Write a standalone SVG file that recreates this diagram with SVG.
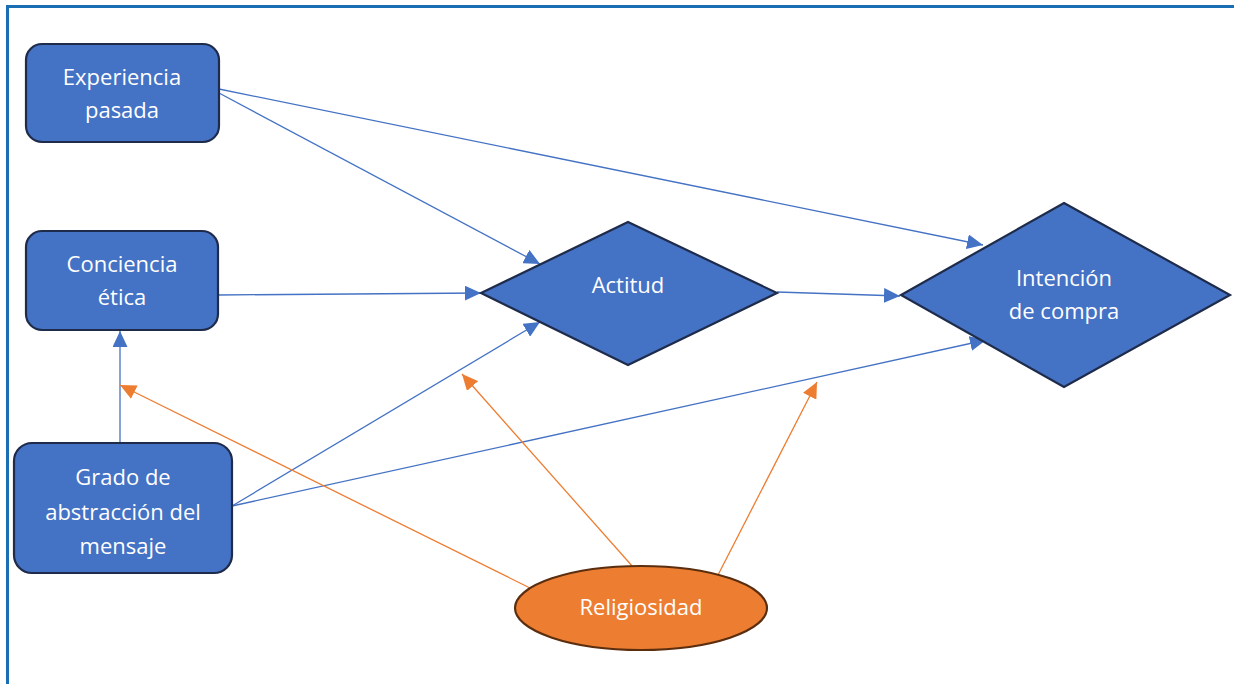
<svg xmlns="http://www.w3.org/2000/svg" width="1234" height="684" viewBox="0 0 1234 684">
<style>
.box{fill:#4472C4;stroke:#1F2B4A;stroke-width:2.2}
.ell{fill:#ED7D31;stroke:#5A2E0E;stroke-width:2.2}
.t{font-family:"Open Sans","Liberation Sans",sans-serif;font-size:22px;fill:#FFFFFF;text-anchor:middle}
.b{stroke:#4472C4;stroke-width:1.3;fill:none}
.o{stroke:#ED7D31;stroke-width:1.3;fill:none}
</style>
<defs>
<marker id="ab" markerUnits="userSpaceOnUse" markerWidth="17" markerHeight="15" refX="16" refY="7.5" orient="auto">
<path d="M0,0 L16,7.5 L0,15 Z" fill="#4472C4"/>
</marker>
<marker id="ao" markerUnits="userSpaceOnUse" markerWidth="17" markerHeight="15" refX="16" refY="7.5" orient="auto">
<path d="M0,0 L16,7.5 L0,15 Z" fill="#ED7D31"/>
</marker>
</defs>
<rect width="1234" height="684" fill="#FFFFFF"/>
<path d="M7.5,684 V6.5 H1234" fill="none" stroke="#1A6FB4" stroke-width="3"/>
<g id="connectors">
<line class="b" x1="219" y1="89" x2="983" y2="245" marker-end="url(#ab)"/>
<line class="b" x1="219" y1="93" x2="540" y2="264" marker-end="url(#ab)"/>
<line class="b" x1="218" y1="295" x2="481" y2="293" marker-end="url(#ab)"/>
<line class="b" x1="777" y1="292" x2="900" y2="296" marker-end="url(#ab)"/>
<line class="b" x1="232" y1="506" x2="540" y2="322" marker-end="url(#ab)"/>
<line class="b" x1="232" y1="506" x2="986" y2="340" marker-end="url(#ab)"/>
<line class="b" x1="120" y1="443" x2="120" y2="331" marker-end="url(#ab)"/>
<line class="o" x1="530" y1="588" x2="120" y2="385" marker-end="url(#ao)"/>
<line class="o" x1="633" y1="567" x2="462" y2="374" marker-end="url(#ao)"/>
<line class="o" x1="718" y1="575" x2="817" y2="382" marker-end="url(#ao)"/>
</g>
<g id="experiencia">
<rect class="box" x="26" y="44" width="193" height="98" rx="16"/>
<text class="t" x="122" y="85">Experiencia</text>
<text class="t" x="122" y="118">pasada</text>
</g>
<g id="conciencia">
<rect class="box" x="26" y="231" width="192" height="99" rx="16"/>
<text class="t" x="122" y="272">Conciencia</text>
<text class="t" x="122" y="305">ética</text>
</g>
<g id="grado">
<rect class="box" x="14" y="443" width="218" height="130" rx="18"/>
<text class="t" x="123" y="485">Grado de</text>
<text class="t" x="123" y="520">abstracción del</text>
<text class="t" x="123" y="554">mensaje</text>
</g>
<g id="actitud">
<polygon class="box" points="628,222 777,293 628,365 481,293"/>
<text class="t" x="628" y="293">Actitud</text>
</g>
<g id="intencion">
<polygon class="box" points="1064,203 1230,295 1064,387 901,295"/>
<text class="t" x="1064" y="286">Intención</text>
<text class="t" x="1064" y="319">de compra</text>
</g>
<g id="religiosidad">
<ellipse class="ell" cx="641" cy="608" rx="126" ry="42"/>
<text class="t" x="641" y="615">Religiosidad</text>
</g>
</svg>
